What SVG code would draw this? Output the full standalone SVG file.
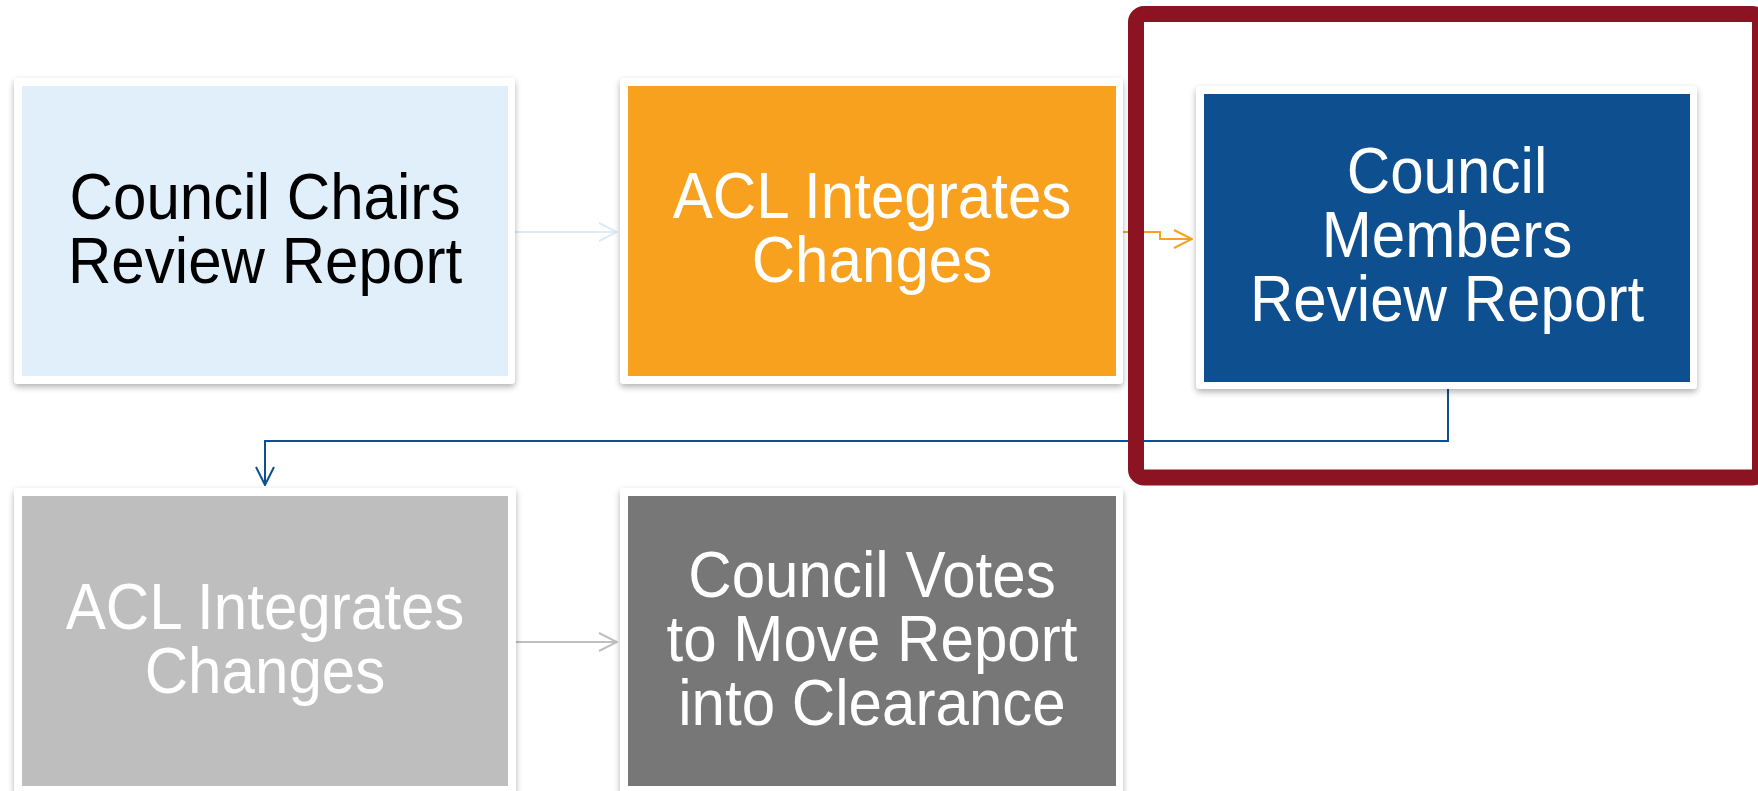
<svg xmlns="http://www.w3.org/2000/svg" width="1758" height="791" viewBox="0 0 1758 791">
<style>
.outer{fill:#ffffff;filter:url(#sh)}
.lbl{font-family:"Liberation Sans",Arial,sans-serif;font-size:65px;text-anchor:middle}
.w{fill:#ffffff}
.k{fill:#000000}
.con{fill:none;stroke-width:2}
</style>
<defs>
<filter id="sh" x="-5%" y="-5%" width="110%" height="115%">
<feDropShadow dx="0" dy="3" stdDeviation="3" flood-color="#000000" flood-opacity="0.3"/>
</filter>
<marker id="aLight" viewBox="0 0 20 20" markerUnits="userSpaceOnUse" markerWidth="20" markerHeight="20" refX="19" refY="10" orient="auto"><path d="M1,1 L19,10 L1,19" fill="none" stroke="#DDEBF7" stroke-width="2"/></marker>
<marker id="aOrange" viewBox="0 0 20 20" markerUnits="userSpaceOnUse" markerWidth="20" markerHeight="20" refX="19" refY="10" orient="auto"><path d="M1,1 L19,10 L1,19" fill="none" stroke="#F8A11F" stroke-width="2"/></marker>
<marker id="aBlue" viewBox="0 0 20 20" markerUnits="userSpaceOnUse" markerWidth="20" markerHeight="20" refX="19" refY="10" orient="auto"><path d="M1,1 L19,10 L1,19" fill="none" stroke="#0D4F8F" stroke-width="2"/></marker>
<marker id="aGrey" viewBox="0 0 20 20" markerUnits="userSpaceOnUse" markerWidth="20" markerHeight="20" refX="19" refY="10" orient="auto"><path d="M1,1 L19,10 L1,19" fill="none" stroke="#BFBFBF" stroke-width="2"/></marker>
</defs>
<rect x="0" y="0" width="1758" height="791" fill="#ffffff"/>
<g id="connectors">
<path class="con" d="M515,232 H617" stroke="#DDEBF7" marker-end="url(#aLight)"/>
<path class="con" d="M1123,232 H1160 V239 H1192" stroke="#F8A11F" marker-end="url(#aOrange)"/>
<path class="con" d="M1448,389 V441 H265 V485" stroke="#0D4F8F" marker-end="url(#aBlue)"/>
<path class="con" d="M516,642 H617" stroke="#BFBFBF" marker-end="url(#aGrey)"/>
</g>
<g id="node1">
<rect class="outer" x="14" y="78" width="501" height="306" rx="4"/>
<rect x="22" y="86" width="486" height="290" fill="#E1EFFA"/>
<g transform="translate(265,0) scale(0.925,1)">
<text class="lbl k" x="0" y="219">Council Chairs</text>
<text class="lbl k" x="0" y="283">Review Report</text>
</g>
</g>
<g id="node2">
<rect class="outer" x="620" y="78" width="503" height="306" rx="4"/>
<rect x="628" y="86" width="488" height="290" fill="#F8A11F"/>
<g transform="translate(872,0) scale(0.925,1)">
<text class="lbl w" x="0" y="218">ACL Integrates</text>
<text class="lbl w" x="0" y="282">Changes</text>
</g>
</g>
<g id="node3">
<rect class="outer" x="1196" y="86" width="501" height="303" rx="4"/>
<rect x="1204" y="94" width="486" height="288" fill="#0D4F8F"/>
<g transform="translate(1447,0) scale(0.925,1)">
<text class="lbl w" x="0" y="193">Council</text>
<text class="lbl w" x="0" y="257">Members</text>
<text class="lbl w" x="0" y="321">Review Report</text>
</g>
</g>
<g id="node4">
<rect class="outer" x="14" y="488" width="502" height="306" rx="4"/>
<rect x="22" y="496" width="486" height="290" fill="#BEBEBE"/>
<g transform="translate(265,0) scale(0.925,1)">
<text class="lbl w" x="0" y="629">ACL Integrates</text>
<text class="lbl w" x="0" y="693">Changes</text>
</g>
</g>
<g id="node5">
<rect class="outer" x="620" y="488" width="503" height="306" rx="4"/>
<rect x="628" y="496" width="488" height="290" fill="#777777"/>
<g transform="translate(872,0) scale(0.925,1)">
<text class="lbl w" x="0" y="597">Council Votes</text>
<text class="lbl w" x="0" y="661">to Move Report</text>
<text class="lbl w" x="0" y="725">into Clearance</text>
</g>
</g>
<g id="highlight">
<rect x="1136" y="14" width="624" height="463.5" rx="8" fill="none" stroke="#8C1422" stroke-width="16"/>
</g>
</svg>
